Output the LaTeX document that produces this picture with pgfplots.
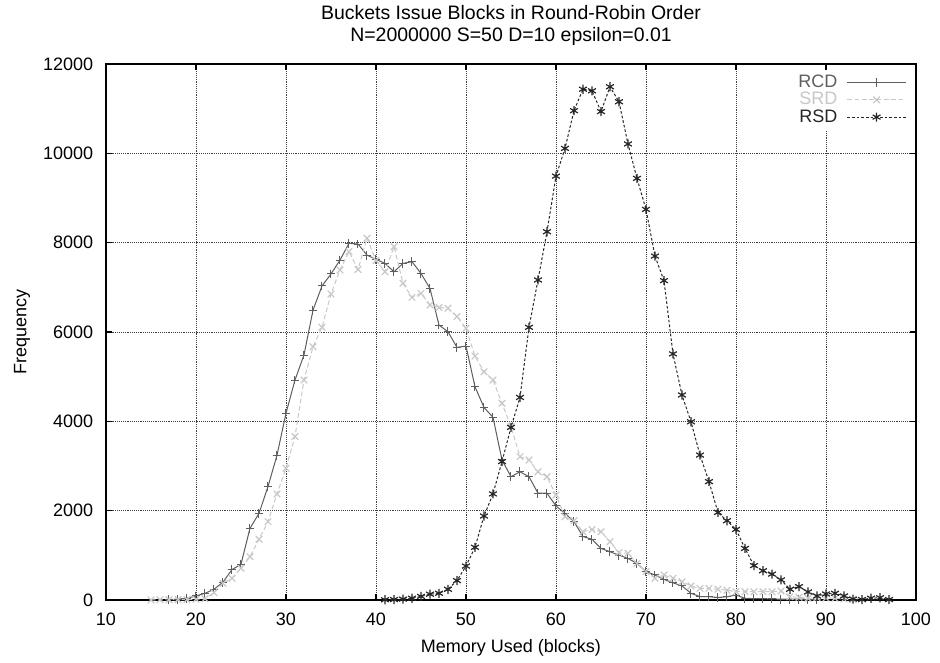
\documentclass[border=0pt]{standalone}
\usepackage{fontspec}
\setmainfont{Liberation Sans}
\usepackage{pgfplots}
\pgfplotsset{compat=1.18}
\definecolor{rcdgray}{HTML}{5E5E5E}
\definecolor{srdgray}{HTML}{C8C8C8}
\definecolor{rsddark}{HTML}{262626}

\pgfplotstableread{
x y
17 10
18 20
19 40
20 90
21 150
22 240
23 400
24 680
25 800
26 1605
27 1940
28 2540
29 3240
30 4180
31 4925
32 5485
33 6490
34 7030
35 7300
36 7610
37 7985
38 7970
39 7720
40 7630
41 7535
42 7350
43 7535
44 7575
45 7310
46 6975
47 6155
48 6005
49 5655
50 5685
51 4775
52 4310
53 4090
54 3135
55 2760
56 2870
57 2760
58 2390
59 2390
60 2105
61 1940
62 1755
63 1420
64 1360
65 1155
66 1080
67 1005
68 930
69 820
70 635
71 560
72 460
73 385
74 315
75 150
76 75
77 75
78 55
79 75
80 110
81 40
82 30
83 30
84 25
85 20
86 20
87 20
88 15
89 10
}\rcd

\pgfplotstableread{
x y
15 0
16 5
17 5
18 10
19 10
20 15
21 30
22 165
23 373
24 485
25 710
26 970
27 1360
28 1755
29 2375
30 2950
31 3660
32 4925
33 5670
34 6105
35 6850
36 7390
37 7800
38 7400
39 8100
40 7600
41 7350
42 7910
43 7090
44 6775
45 6865
46 6605
47 6550
48 6530
49 6345
50 6085
51 5460
52 5110
53 4925
54 4405
55 3880
56 3210
57 3135
58 2870
59 2760
60 2350
61 1865
62 1775
63 1530
64 1580
65 1530
66 1305
67 1060
68 1045
69 820
70 635
71 485
72 560
73 485
74 410
75 315
76 260
77 260
78 240
79 220
80 185
81 185
82 185
83 185
84 185
85 200
86 75
87 60
88 40
89 50
90 45
91 40
92 20
93 10
}\srd

\pgfplotstableread{
x y
41 5
42 10
43 20
44 40
45 80
46 130
47 150
48 240
49 435
50 760
51 1180
52 1880
53 2375
54 3100
55 3865
56 4535
57 6105
58 7165
59 8245
60 9490
61 10110
62 10955
63 11435
64 11400
65 10935
66 11490
67 11155
68 10210
69 9440
70 8745
71 7700
72 7150
73 5510
74 4590
75 3990
76 3245
77 2650
78 1960
79 1775
80 1580
81 1155
82 770
83 655
84 580
85 450
86 240
87 300
88 180
89 90
90 135
91 150
92 90
93 20
94 10
95 40
96 50
97 10
}\rsd

\begin{document}
\fontsize{13.5}{16}\selectfont
\begin{tikzpicture}
\useasboundingbox (-79.5pt,-46.5pt) rectangle (625.5pt,450pt);
\begin{axis}[
    at={(0,0)}, anchor=south west,
    scale only axis,
    width=607.5pt, height=402pt,
    xmin=10, xmax=100, ymin=0, ymax=12000,
    xtick={10,20,...,100},
    ytick={0,2000,...,12000},
    scaled ticks=false,
    /pgf/number format/assume math mode=true,
    /pgf/number format/1000 sep={},
    tick align=inside,
    major tick length=4.5pt,
    tick style={black, line width=0.9pt},
    axis line style={line width=1.1pt},
    grid=major,
    grid style={densely dotted, black!75, line width=0.6pt},
    title={Buckets Issue Blocks in Round-Robin Order\\N=2000000 S=50 D=10 epsilon=0.01},
    title style={align=center, font=\fontsize{14.6}{15.8}\selectfont,
        at={(axis description cs:0.5,1.057)}, anchor=center},
    xlabel={Memory Used (blocks)},
    ylabel={Frequency},
    xlabel style={at={(axis description cs:0.5,-0.0896)}, anchor=center},
    ylabel style={at={(axis description cs:-0.1035,0.5)}, anchor=center, rotate=0},
    yticklabel style={xshift=-5pt},
    xticklabel style={yshift=-5pt},
    legend plot pos=right,
    legend cell align=right,
    legend style={at={(axis description cs:1,1)}, anchor=north east,
        xshift=-4pt, yshift=-4pt, draw=none, fill=white, row sep=-2.5pt,
        column sep=5pt},
    legend image code/.code={
        \draw[mark repeat=2,mark phase=2,#1] plot coordinates {(0pt,0pt) (22pt,0pt) (44pt,0pt)};},
]
\addplot[rcdgray, line width=0.75pt, mark=+, mark size=3.3pt, mark options={solid}] table {\rcd};
\addlegendentry{\textcolor{rcdgray}{RCD}}
\addplot[srdgray, line width=0.75pt, dash pattern=on 3.5pt off 2pt, mark=x, mark size=3.5pt, mark options={solid, line width=0.9pt}] table {\srd};
\addlegendentry{\textcolor{srdgray}{SRD}}
\addplot[rsddark, line width=0.75pt, dash pattern=on 2pt off 1.5pt, mark=asterisk, mark size=3.4pt, mark options={solid, line width=0.9pt}] table {\rsd};
\addlegendentry{\textcolor{rsddark}{RSD}}
\end{axis}
\end{tikzpicture}
\end{document}
